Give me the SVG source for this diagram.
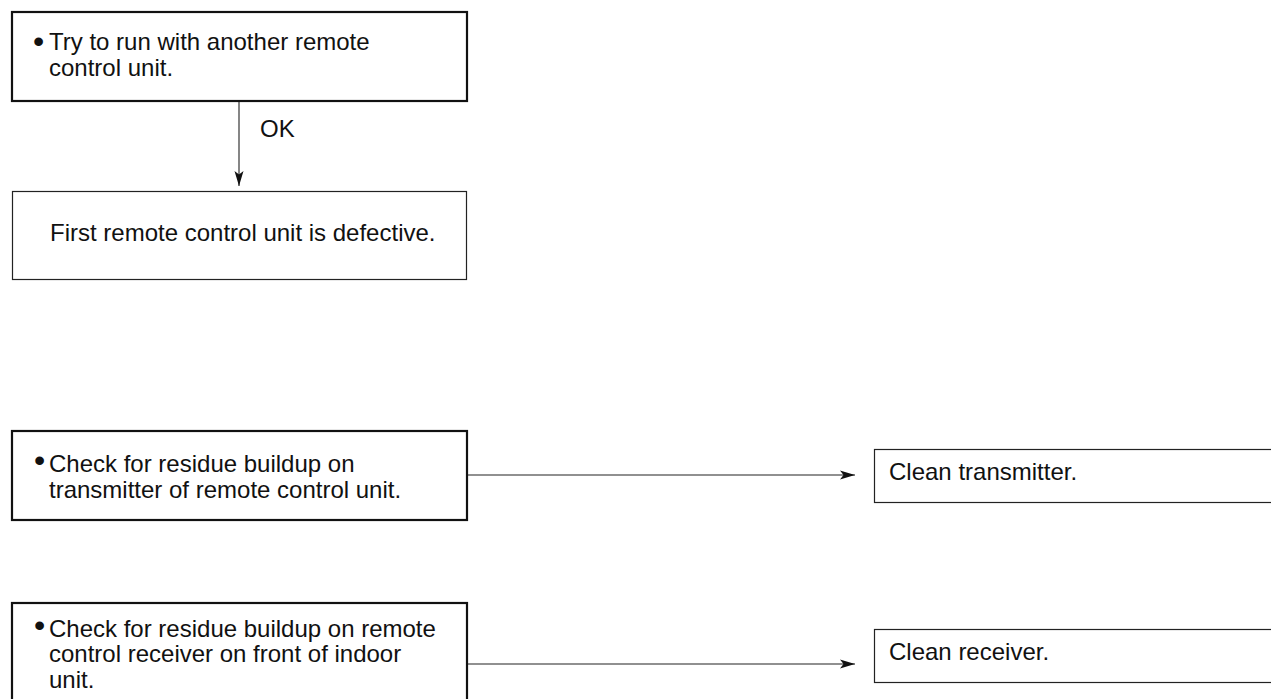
<svg xmlns="http://www.w3.org/2000/svg" width="1271" height="699" viewBox="0 0 1271 699">
<defs>
<style>
.t{font-family:"Liberation Sans",Arial,sans-serif;font-size:24px;fill:#111}
.b{font-family:"Liberation Sans",Arial,sans-serif;font-size:32px;fill:#111}
.thick{fill:#fff;stroke:#111;stroke-width:2.2}
.thin{fill:#fff;stroke:#222;stroke-width:1.2}
.con{fill:none;stroke:#222;stroke-width:1.1}
</style>
<marker id="ah" markerUnits="userSpaceOnUse" markerWidth="16" markerHeight="12" refX="15" refY="6" orient="auto">
<path d="M0,1.5 L15,6 L0,10.5 L3.5,6 Z" fill="#111"/>
</marker>
</defs>
<rect width="1271" height="699" fill="#fff"/>
<g id="connectors">
<line class="con" x1="239" y1="101" x2="239" y2="186" marker-end="url(#ah)"/>
<text class="t" x="260" y="137">OK</text>
<line class="con" x1="467" y1="475" x2="855" y2="475" marker-end="url(#ah)"/>
<line class="con" x1="467" y1="664" x2="855" y2="664" marker-end="url(#ah)"/>
</g>
<g id="n1">
<rect class="thick" x="12" y="12" width="455" height="89"/>
<text class="b" x="33" y="52">•</text>
<text class="t" x="49" y="50">Try to run with another remote</text>
<text class="t" x="49" y="76">control unit.</text>
</g>
<g id="n2">
<rect class="thin" x="12.5" y="191.5" width="454" height="88"/>
<text class="t" x="50" y="241">First remote control unit is defective.</text>
</g>
<g id="n3">
<rect class="thick" x="12" y="431" width="455" height="89"/>
<text class="b" x="34" y="471">•</text>
<text class="t" x="49" y="472">Check for residue buildup on</text>
<text class="t" x="49" y="498">transmitter of remote control unit.</text>
</g>
<g id="n4">
<rect class="thin" x="874.5" y="449.5" width="410" height="53"/>
<text class="t" x="889" y="480">Clean transmitter.</text>
</g>
<g id="n5">
<rect class="thick" x="12" y="603" width="455" height="110"/>
<text class="b" x="34" y="636">•</text>
<text class="t" x="49" y="637">Check for residue buildup on remote</text>
<text class="t" x="49" y="662">control receiver on front of indoor</text>
<text class="t" x="49" y="688">unit.</text>
</g>
<g id="n6">
<rect class="thin" x="874.5" y="629.5" width="410" height="53"/>
<text class="t" x="889" y="660">Clean receiver.</text>
</g>
</svg>
